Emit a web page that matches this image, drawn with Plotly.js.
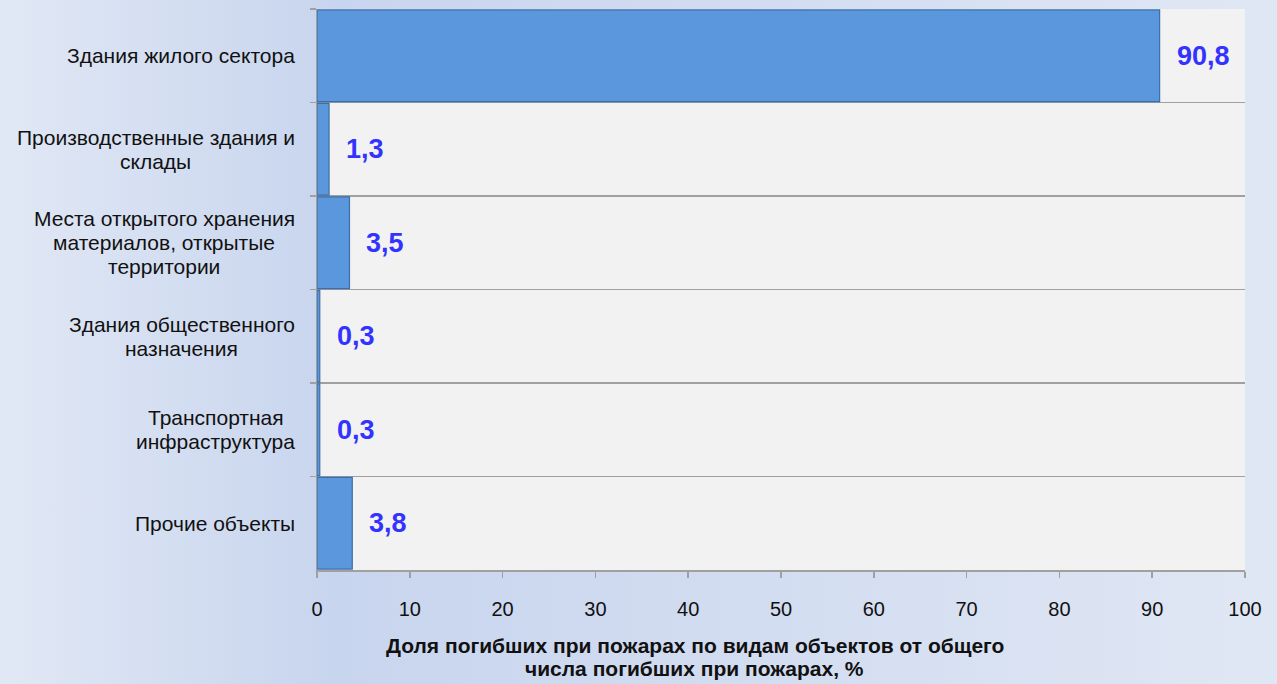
<!DOCTYPE html>
<html>
<head>
<meta charset="utf-8">
<script src="https://cdn.plot.ly/plotly-3.0.1.min.js"></script>
<style>
  html, body { margin: 0; padding: 0; }
  body {
    width: 1277px; height: 684px; overflow: hidden;
    background: linear-gradient(to right, #e1e8f5 0%, #c8d5ee 26%, #d3ddf1 60%, #e0e7f4 100%);
  }
  #chart { width: 1277px; height: 684px; }
</style>
</head>
<body>
<div id="chart"></div>
<script>
// ===== data =====
const categories = [
  "Здания жилого сектора",
  "Производственные здания и склады",
  "Места открытого хранения материалов, открытые территории",
  "Здания общественного назначения",
  "Транспортная инфраструктура",
  "Прочие объекты"
];
// как подписи переносятся по строкам
const catLines = [
  ["Здания жилого сектора"],
  ["Производственные здания и", "склады"],
  ["Места открытого хранения", "материалов, открытые", "территории"],
  ["Здания общественного", "назначения"],
  ["Транспортная", "инфраструктура"],
  ["Прочие объекты"]
];
const values = [90.8, 1.3, 3.5, 0.3, 0.3, 3.8];
const xTitleLines = [
  "Доля погибших при пожарах по видам объектов от общего",
  "числа погибших при пожарах, %"
];

const FONT = "Liberation Sans, Arial, sans-serif";
const CAT_SIZE = 21;
const LINE = 24; // межстрочный интервал, px
const fmt = v => v.toFixed(1).replace(".", ",");

// ширина строки — чтобы центрировать блок строк, прижатый правым краем к оси
const ctx = document.createElement("canvas").getContext("2d");
ctx.font = CAT_SIZE + "px 'Liberation Sans', Arial, sans-serif";
const textW = t => ctx.measureText(t).width;

const catNotes = [];
categories.forEach((c, i) => {
  const lines = catLines[i];
  const maxW = Math.max(...lines.map(textW));
  lines.forEach((t, k) => {
    catNotes.push({
      xref: "paper", yref: "y", x: 0, y: c,
      xanchor: "center", xshift: -22 - maxW / 2, yanchor: "middle",
      yshift: ((lines.length - 1) / 2 - k) * LINE,
      text: t, showarrow: false,
      font: { family: FONT, size: CAT_SIZE, color: "#111" }
    });
  });
});

// значения справа от столбиков
const valNotes = categories.map((c, i) => ({
  xref: "x", yref: "y", x: values[i], y: c,
  xanchor: "left", xshift: 15,
  text: "<b>" + fmt(values[i]) + "</b>", showarrow: false,
  font: { family: FONT, size: 27, color: "#3333ff" }
}));

// заголовок оси X (смещён влево, как в исходнике)
const titleNotes = xTitleLines.map((t, k) => ({
  xref: "paper", yref: "paper", x: 0.407, y: 0,
  xanchor: "center", yanchor: "middle",
  yshift: -(75 + k * 23),
  text: "<b>" + t + "</b>", showarrow: false,
  font: { family: FONT, size: 21, color: "#111" }
}));

const trace = {
  type: "bar",
  orientation: "h",
  x: values,
  y: categories,
  marker: { color: "#5a97dc", line: { color: "#3d6ea8", width: 1.2 } },
  hoverinfo: "skip"
};

const layout = {
  width: 1277, height: 684,
  margin: { l: 317, r: 32, t: 9, b: 114 },
  paper_bgcolor: "rgba(0,0,0,0)",
  plot_bgcolor: "#f2f2f2",
  bargap: 0.02,
  showlegend: false,
  font: { family: FONT, size: 19, color: "#111" },
  xaxis: {
    range: [0, 100], dtick: 10, fixedrange: true,
    showgrid: false, zeroline: false,
    showline: true, linecolor: "#a0a0a0", linewidth: 1.5,
    ticks: "outside", ticklen: 6, tickcolor: "#a0a0a0", tickwidth: 1.5,
    ticklabelstandoff: 14,
    tickfont: { family: FONT, size: 20, color: "#111" }
  },
  yaxis: {
    type: "category", autorange: "reversed", fixedrange: true,
    tickson: "boundaries", showticklabels: false,
    showgrid: true, gridcolor: "#a0a0a0", gridwidth: 1.5,
    showline: true, linecolor: "#a0a0a0", linewidth: 1.5,
    ticks: "outside", ticklen: 6, tickcolor: "#a0a0a0", tickwidth: 1.5
  },
  annotations: [...catNotes, ...valNotes, ...titleNotes]
};

Plotly.newPlot("chart", [trace], layout, { displayModeBar: false, staticPlot: true });
</script>
</body>
</html>
